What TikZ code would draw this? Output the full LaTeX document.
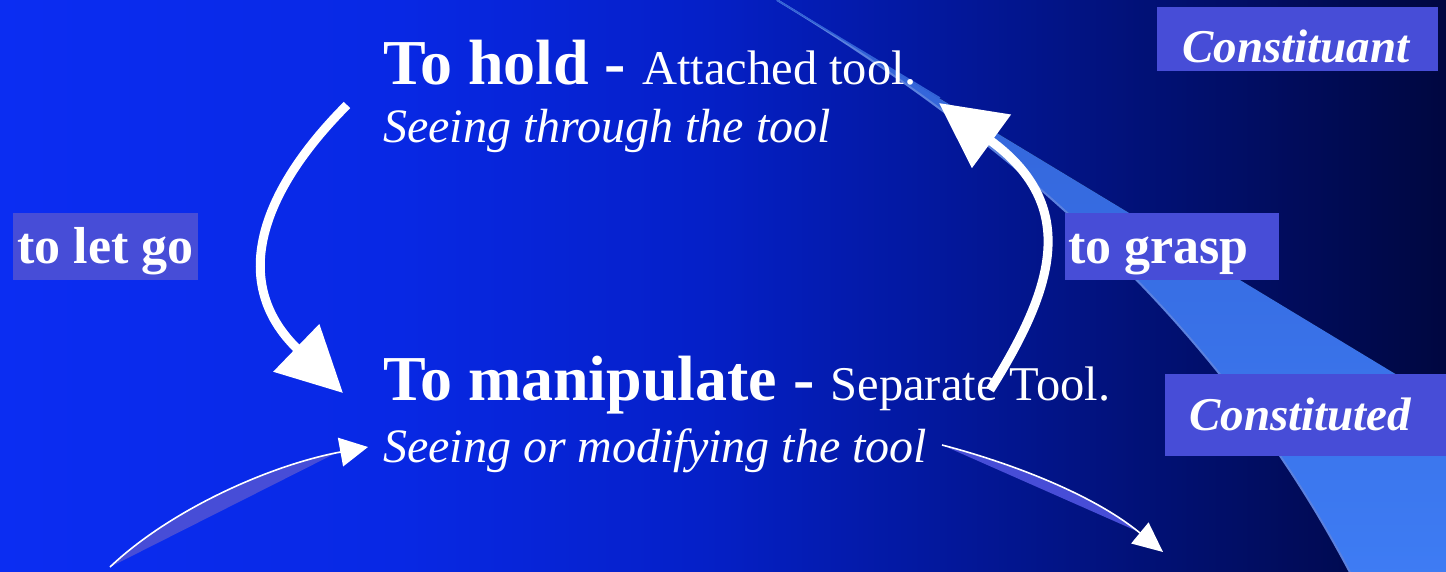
\documentclass[tikz,border=0pt]{standalone}
\usepackage{fontspec}
\setmainfont{Liberation Serif}
\usetikzlibrary{arrows.meta}

\definecolor{boxblue}{RGB}{71,77,215}
\definecolor{bandtop}{RGB}{50,98,214}
\definecolor{bandbot}{RGB}{62,124,244}
\definecolor{bgA}{RGB}{11,45,242}
\definecolor{bgB}{RGB}{8,40,228}
\definecolor{bgC}{RGB}{5,32,200}
\definecolor{bgD}{RGB}{3,24,158}
\definecolor{bgE}{RGB}{1,15,108}
\definecolor{bgF}{RGB}{0,7,64}

\pgfdeclarehorizontalshading{bgshade}{100bp}{color(0bp)=(bgA); color(25bp)=(bgA); color(38.8bp)=(bgB); color(49.2bp)=(bgC); color(57.2bp)=(bgD); color(66.5bp)=(bgE); color(75bp)=(bgF); color(100bp)=(bgF)}

\newcommand\fbig{\fontsize{64}{70}\selectfont\bfseries}
\newcommand\freg{\fontsize{48.5}{56}\selectfont\mdseries\upshape}
\newcommand\fital{\fontsize{48}{56}\selectfont\itshape}
\newcommand\flab{\fontsize{52}{60}\selectfont\bfseries}
\newcommand\flabit{\fontsize{47}{56}\selectfont\bfseries\itshape}

\tikzset{
  maintext/.style={anchor=base west, inner sep=0pt, text=white},
  lab/.style={anchor=north west, fill=boxblue, text=white, inner ysep=0pt},
  bigarrow/.style={draw=white, line width=9pt, -{Triangle[length=65pt,width=64pt]}},
  thinarrow/.style={draw=white, line width=1.6pt},
  crescent/.style={fill=boxblue},
}

\begin{document}
\begin{tikzpicture}[x=1pt,y=-1pt]
\useasboundingbox (0,0) rectangle (1446,571);
\shade[shading=bgshade] (0,0) rectangle (1446,571);
\begin{scope}
\clip (0,0) rectangle (1446,571);
% light blue band
\fill[top color=bandtop, bottom color=bandbot] (777,0) -- (1460,413) -- (1460,580) -- (1354,580) .. controls (1250,380) and (1080,183) .. (777,0) -- cycle;
\draw[bandtop!80!white, line width=2pt] (777,0) .. controls (1080,183) and (1250,380) .. (1354,580);
\draw[bandtop, line width=1.5pt] (777,0) -- (940,98);
\end{scope}

% labels
\node[lab, inner xsep=3pt, text height=50pt, text depth=17pt] (letgo) at (13,213) {\makebox[179pt][c]{\flab to let go}};
\node[lab, inner xsep=3pt, text height=50pt, text depth=17pt] (grasp) at (1065,213) {\makebox[208pt][l]{\flab to grasp}};
\node[lab, inner xsep=25pt, text height=55pt, text depth=9pt] (constituant) at (1157,7) {\makebox[231pt][l]{\flabit Constituant}};
\node[lab, inner xsep=24pt, text height=56pt, text depth=26pt] (constituted) at (1165,374) {\makebox[240pt][l]{\flabit Constituted}};

% main texts
\node[maintext] (hold) at (383,84) {\fbig To hold - \freg Attached tool.};
\node[maintext] (through) at (383,142) {\fital Seeing through the tool};
\node[maintext] (manip) at (383,400) {\fbig To manipulate - \freg Separate Tool.};
\node[maintext] (modify) at (383,462) {\fital Seeing or modifying the tool};

% connector end points
\coordinate (a1s) at (347,105);
\coordinate (a1e) at (343,393);
\coordinate (a2s) at (990,390);
\coordinate (a2e) at (939,103);
\coordinate (a3s) at (110,567);
\coordinate (a3e) at (368,447);
\coordinate (a4s) at (942,445);
\coordinate (a4e) at (1163,552);

% crescents under thin arrows
\fill[crescent] (a3s) .. controls (170,510) and (270,465) .. (340,451) -- cycle;
\fill[crescent] (a4s) .. controls (1000,460) and (1089,491) .. (1139,532) -- cycle;

% arrows
\draw[bigarrow] (a1s) .. controls (267,185) and (225,279) .. (a1e);
\draw[bigarrow] (a2s) .. controls (1054,288) and (1080,206) .. (a2e);
\draw[thinarrow, -{Triangle[length=28pt,width=29pt]}] (a3s) .. controls (170,510) and (270,465) .. (a3e);
\draw[thinarrow, -{Triangle[length=30pt,width=27pt]}] (a4s) .. controls (1000,460) and (1089,491) .. (a4e);
\end{tikzpicture}
\end{document}
